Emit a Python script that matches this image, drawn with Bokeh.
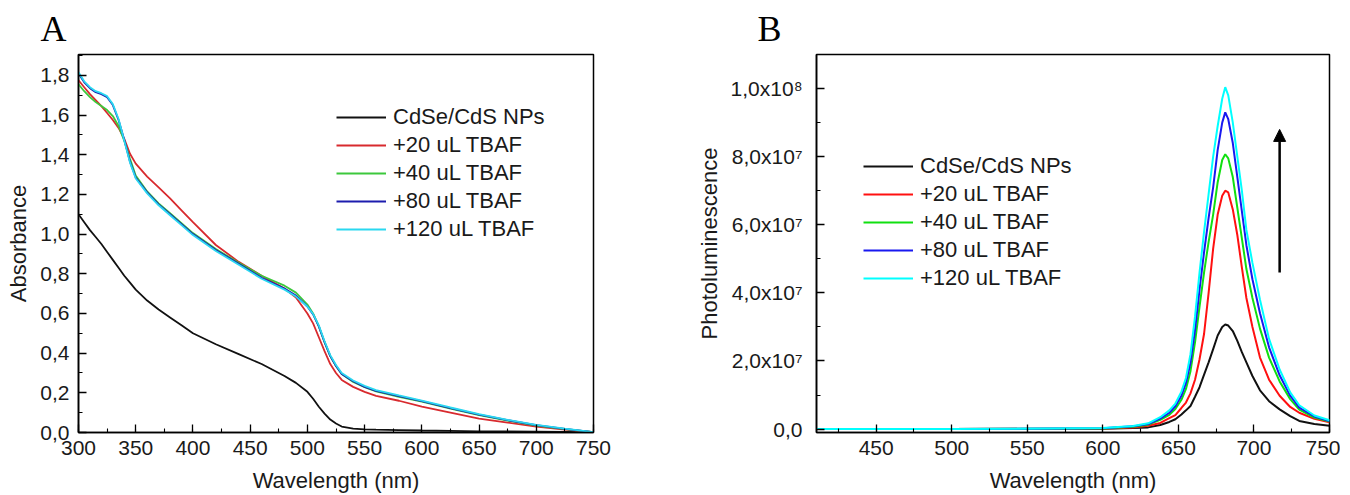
import numpy as np
from bokeh.plotting import figure
from bokeh.layouts import row
from bokeh.models import Range1d, FixedTicker, Legend, LegendItem, Arrow, NormalHead
from bokeh.embed import file_html
from bokeh.resources import INLINE

# ---------------- data ----------------
series_labels = ["CdSe/CdS NPs", "+20 uL TBAF", "+40 uL TBAF", "+80 uL TBAF", "+120 uL TBAF"]

# Panel A: absorbance
abs_wl = [300, 305, 310, 315, 320, 325, 330, 335, 340, 345, 350, 360, 370, 380, 390, 400,
          420, 440, 460, 480, 490, 500, 505, 510, 515, 520, 525, 530, 540, 550, 560, 580,
          600, 625, 650, 675, 700, 725, 750]
abs_np = [1.10, 1.06, 1.02, 0.985, 0.95, 0.91, 0.87, 0.83, 0.79, 0.755, 0.72, 0.665, 0.62, 0.58, 0.54, 0.50,
          0.445, 0.395, 0.345, 0.285, 0.25, 0.205, 0.17, 0.13, 0.095, 0.065, 0.045, 0.03, 0.02, 0.016, 0.014, 0.012,
          0.01, 0.008, 0.006, 0.005, 0.004, 0.003, 0.002]
abs_20 = [1.775, 1.74, 1.705, 1.675, 1.645, 1.61, 1.575, 1.535, 1.48, 1.405, 1.355, 1.29, 1.235, 1.18, 1.12, 1.06,
          0.945, 0.86, 0.79, 0.725, 0.68, 0.60, 0.55, 0.48, 0.41, 0.345, 0.30, 0.265, 0.23, 0.205, 0.185, 0.16,
          0.13, 0.10, 0.07, 0.05, 0.03, 0.015, 0.002]
abs_40 = [1.755, 1.72, 1.69, 1.665, 1.645, 1.625, 1.595, 1.545, 1.47, 1.38, 1.295, 1.215, 1.155, 1.105, 1.055, 1.005,
          0.925, 0.855, 0.79, 0.74, 0.705, 0.645, 0.60, 0.535, 0.455, 0.385, 0.335, 0.295, 0.255, 0.228, 0.207, 0.18,
          0.155, 0.12, 0.087, 0.06, 0.035, 0.017, 0.002]
abs_80 = [1.81, 1.765, 1.735, 1.715, 1.705, 1.69, 1.65, 1.575, 1.475, 1.365, 1.285, 1.21, 1.15, 1.10, 1.05, 1.0,
          0.92, 0.85, 0.78, 0.725, 0.69, 0.635, 0.595, 0.535, 0.455, 0.385, 0.335, 0.295, 0.258, 0.23, 0.21, 0.183,
          0.158, 0.123, 0.09, 0.062, 0.037, 0.018, 0.002]
abs_120 = [1.815, 1.77, 1.74, 1.72, 1.71, 1.695, 1.655, 1.58, 1.47, 1.36, 1.28, 1.205, 1.145, 1.095, 1.045, 0.995,
           0.915, 0.845, 0.775, 0.72, 0.685, 0.635, 0.597, 0.54, 0.46, 0.39, 0.34, 0.30, 0.262, 0.235, 0.214, 0.187,
           0.161, 0.126, 0.093, 0.064, 0.038, 0.019, 0.002]

abs_xticks = [300, 350, 400, 450, 500, 550, 600, 650, 700, 750]
abs_yticks = [0.0, 0.2, 0.4, 0.6, 0.8, 1.0, 1.2, 1.4, 1.6, 1.8]
abs_ytick_labels = ["0,0", "0,2", "0,4", "0,6", "0,8", "1,0", "1,2", "1,4", "1,6", "1,8"]

# Panel B: photoluminescence
pl_wl = [410, 500, 600, 620, 630, 638, 644, 648, 652, 655, 658, 661, 664, 667, 670, 673, 676, 679, 681,
         683, 686, 689, 692, 695, 699, 704, 710, 717, 724, 730, 740, 750]
pl_np = [0, 0, 0.1, 0.3, 0.5, 1.2, 2.1, 2.9, 4.3, 5.5, 6.8, 9.5, 12.3, 16, 19.6, 23.5, 27.5, 30, 30.7,
         30.4, 28.8, 25.9, 22.6, 19.6, 15.6, 11.4, 8.2, 5.8, 3.8, 2.4, 1.5, 1.0]
pl_20 = [0, 0, 0.15, 0.5, 1.0, 1.8, 3.2, 4.1, 6.2, 7.8, 10.5, 14.5, 20.5, 28, 40, 53, 63, 68.5, 70,
         69.5, 64.5, 57, 47.5, 38.5, 30, 21, 14.5, 9.8, 6.5, 4.8, 3, 2]
pl_40 = [0, 0, 0.2, 0.7, 1.3, 2.7, 4.2, 5.9, 8.6, 11.8, 17, 25.5, 36, 46, 55, 63, 72.5, 79, 80.7,
         79.5, 74, 65, 56, 47, 38.5, 29.5, 21, 14, 8.8, 5.7, 3.4, 2.2]
pl_80 = [0, 0, 0.25, 0.8, 1.5, 3.1, 4.8, 6.7, 9.8, 13.5, 19.5, 29, 41, 52, 62, 71, 82, 90, 93,
         91, 84, 74, 64, 54, 44, 34, 24, 15.8, 9.8, 6.3, 3.7, 2.4]
pl_120 = [0, 0, 0.3, 0.9, 1.7, 3.5, 5.5, 7.5, 11, 15, 22, 33, 46, 58, 69, 80, 89, 97, 100.4,
          98, 90, 80, 70, 58.5, 48.8, 38, 26.5, 17.5, 10.8, 7, 4, 2.6]
pl_scale = 1e6  # values above are in units of 1e6

pl_xticks = [450, 500, 550, 600, 650, 700, 750]
pl_yticks = [0, 2e7, 4e7, 6e7, 8e7, 1e8]
pl_ytick_labels = ["0,0", "2,0x10\u2077", "4,0x10\u2077", "6,0x10\u2077", "8,0x10\u2077", "1,0x10\u2078"]

arrow_x = 717
arrow_y0 = 46e6
arrow_y1 = 88e6

colors_a = ["#111111", "#d82a2e", "#3cc83c", "#1c1cae", "#2ad8f0"]
colors_b = ["#111111", "#ff1010", "#10e010", "#1818f0", "#00ffff"]

FONT = "Liberation Sans"


def style(p, xlabel, ylabel, letter, letter_offset):
    p.outline_line_color = "black"
    p.outline_line_width = 1.5
    p.outline_line_alpha = 1
    p.grid.visible = False
    p.background_fill_color = "white"
    p.border_fill_color = "white"
    for ax in (p.xaxis[0], p.yaxis[0]):
        ax.axis_line_color = "black"
        ax.axis_line_width = 1.6
        ax.major_tick_line_color = "black"
        ax.minor_tick_line_color = "black"
        ax.major_tick_line_width = 1.3
        ax.minor_tick_line_width = 1.1
        ax.major_tick_in = 8
        ax.major_tick_out = 0
        ax.minor_tick_in = 4
        ax.minor_tick_out = 0
        ax.major_label_text_font = FONT
        ax.major_label_text_font_size = "21px"
        ax.major_label_text_color = "#1a1a1a"
        ax.axis_label_text_font = FONT
        ax.axis_label_text_font_size = "22px"
        ax.axis_label_text_font_style = "normal"
        ax.axis_label_text_color = "#1a1a1a"
    p.xaxis.axis_label = xlabel
    p.yaxis.axis_label = ylabel
    p.xaxis.major_label_standoff = 8
    p.xaxis.axis_label_standoff = 10
    p.yaxis.axis_label_standoff = 6
    p.title.text = letter
    p.title.text_font = "Liberation Serif"
    p.title.text_font_size = "36px"
    p.title.text_font_style = "normal"
    p.title.text_color = "black"
    p.title.align = "left"
    p.title.offset = letter_offset
    p.title.standoff = 12


def make_legend(items, loc):
    return Legend(items=items, location=loc, glyph_width=50, glyph_height=20,
                  label_height=20, spacing=2, label_standoff=7, padding=0, margin=0,
                  border_line_alpha=0, background_fill_alpha=0,
                  label_text_font=FONT, label_text_font_size="22px", label_text_color="#1a1a1a")


# ---------------- Panel A ----------------
pa = figure(width=690, height=495, output_backend="svg", toolbar_location=None,
            x_range=Range1d(300, 750), y_range=Range1d(0, 1.905),
            min_border_left=78, min_border_right=97, min_border_top=54, min_border_bottom=61)
style(pa, "Wavelength (nm)", "Absorbance", "A", -38)
pa.xaxis.ticker = FixedTicker(ticks=abs_xticks, minor_ticks=list(np.arange(300, 751, 25)))
pa.yaxis.ticker = FixedTicker(ticks=abs_yticks, minor_ticks=list(np.round(np.arange(0, 1.91, 0.1), 2)))
pa.yaxis.major_label_overrides = {t: l for t, l in zip(abs_yticks, abs_ytick_labels)}
pa.yaxis.major_label_standoff = 9

abs_series = [abs_np, abs_20, abs_40, abs_80, abs_120]
items_a = []
for lab, ys, c in zip(series_labels, abs_series, colors_a):
    r = pa.line(abs_wl, ys, line_color=c, line_width=1.8)
    items_a.append(LegendItem(label=lab, renderers=[r]))
pa.add_layout(make_legend(items_a, (258, 190)))

# ---------------- Panel B ----------------
pb = figure(width=650, height=495, output_backend="svg", toolbar_location=None,
            x_range=Range1d(410.5, 750), y_range=Range1d(-1e6, 1.1e8),
            min_border_left=126, min_border_right=11, min_border_top=54, min_border_bottom=62)
style(pb, "Wavelength (nm)", "Photoluminescence", "B", -59)
pb.xaxis.ticker = FixedTicker(ticks=pl_xticks, minor_ticks=list(np.arange(425, 751, 25)))
pb.yaxis.ticker = FixedTicker(ticks=pl_yticks, minor_ticks=list(np.arange(0, 1.1e8, 1e7)))
pb.yaxis.major_label_overrides = {t: l for t, l in zip(pl_yticks, pl_ytick_labels)}
pb.yaxis.major_label_standoff = 14

pl_series = [pl_np, pl_20, pl_40, pl_80, pl_120]
items_b = []
for lab, ys, c in zip(series_labels, pl_series, colors_b):
    r = pb.line(pl_wl, [v * pl_scale for v in ys], line_color=c, line_width=2)
    items_b.append(LegendItem(label=lab, renderers=[r]))
pb.add_layout(make_legend(items_b, (47, 141)))
pb.add_layout(Arrow(x_start=arrow_x, y_start=arrow_y0, x_end=arrow_x, y_end=arrow_y1,
                    line_width=2.5, line_color="black",
                    end=NormalHead(size=12, fill_color="black", line_color="black")))

layout = row(pa, pb, spacing=0)
open("out.html", "w").write(file_html(layout, INLINE))
